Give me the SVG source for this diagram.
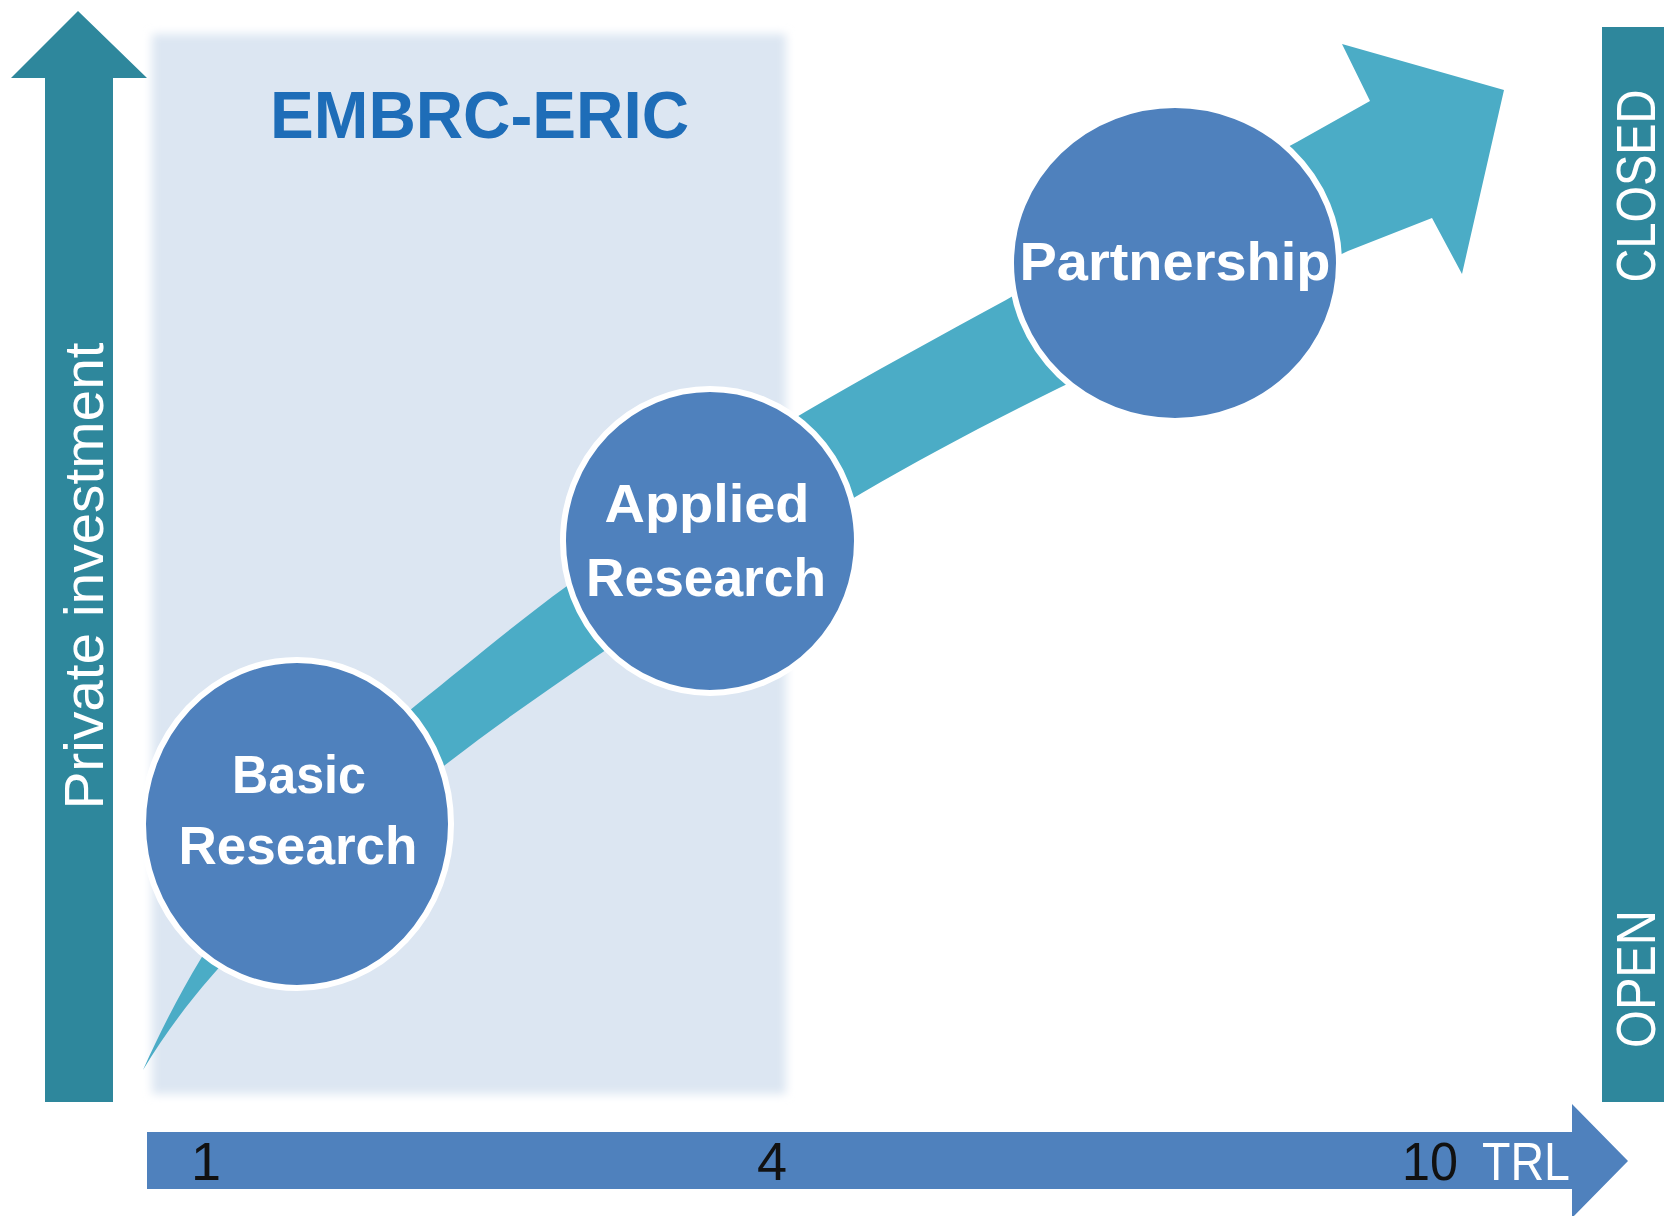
<svg xmlns="http://www.w3.org/2000/svg" width="1678" height="1216" viewBox="0 0 1678 1216">
  <defs>
    <filter id="soft" x="-5%" y="-5%" width="110%" height="110%">
      <feGaussianBlur stdDeviation="5"/>
    </filter>
  </defs>
  <style>
    .bar { fill: #2e879c; }
    .axis { fill: #4f81bd; }
    .flow { fill: #4bacc6; }
    .node { fill: #4f81bd; stroke: #ffffff; stroke-width: 6; }
    .lbl { font-family: "Liberation Sans", Arial, sans-serif; font-weight: bold; font-size: 53px; fill: #ffffff; text-anchor: middle; }
    .side { font-family: "Liberation Sans", Arial, sans-serif; font-size: 56px; fill: #ffffff; text-anchor: middle; }
    .tick { font-family: "Liberation Sans", Arial, sans-serif; font-size: 54px; fill: #111111; text-anchor: middle; }
  </style>
  <rect width="1678" height="1216" fill="#ffffff"/>

  <!-- EMBRC-ERIC shaded region -->
  <g id="embrc-eric">
    <rect x="152" y="34" width="634" height="1060" fill="#dce6f2" filter="url(#soft)"/>
    <text x="479.5" y="138" font-family="Liberation Sans, Arial, sans-serif" font-weight="bold" font-size="66" fill="#1e6db8" text-anchor="middle" textLength="419" lengthAdjust="spacingAndGlyphs">EMBRC-ERIC</text>
  </g>

  <!-- Vertical axis: Private investment -->
  <g id="axis-private-investment">
    <polygon class="bar" points="45,78 11,78 78,11 147,78 113,78 113,1102 45,1102"/>
    <text class="side" transform="translate(103,576) rotate(-90)" textLength="467" lengthAdjust="spacingAndGlyphs">Private investment</text>
  </g>

  <!-- Right bar: OPEN / CLOSED -->
  <g id="axis-open-closed">
    <rect class="bar" x="1602" y="27" width="62" height="1075"/>
    <text class="side" transform="translate(1655,186) rotate(-90)" textLength="193" lengthAdjust="spacingAndGlyphs">CLOSED</text>
    <text class="side" transform="translate(1655,979) rotate(-90)" textLength="138" lengthAdjust="spacingAndGlyphs">OPEN</text>
  </g>

  <!-- Horizontal axis: TRL -->
  <g id="axis-trl">
    <polygon class="axis" points="147,1132 1572,1132 1572,1104 1628,1161 1572,1218 1572,1189 147,1189"/>
    <text class="tick" x="206" y="1180">1</text>
    <text class="tick" x="772" y="1180">4</text>
    <text class="tick" x="1430" y="1180" textLength="56" lengthAdjust="spacingAndGlyphs">10</text>
    <text class="tick" x="1526" y="1180" fill="#ffffff" style="fill:#ffffff" textLength="88" lengthAdjust="spacingAndGlyphs">TRL</text>
  </g>

  <!-- Connector: curved growth arrow -->
  <g id="connectors">
    <path class="flow" d="M143,1070
      C170,1010 200,955 240,900
      C300,820 360,750 415,706
      C470,662 520,620 567,586
      C640,532 720,462 805,412
      C870,374 940,336 1006,300
      C1100,248 1200,194 1297,142
      L1370,101 L1342,44 L1504,90 L1462,274 L1432,218 L1348,251
      C1250,298 1150,344 1059,388
      C990,422 925,456 862,493
      C770,548 680,600 597,656
      C545,692 495,726 449,762
      C370,822 300,885 250,935
      C205,980 170,1025 143,1070 Z"/>
  </g>

  <!-- Nodes -->
  <g id="node-basic-research">
    <ellipse class="node" cx="297" cy="824" rx="154" ry="164"/>
    <text class="lbl" x="299" y="793" textLength="134" lengthAdjust="spacingAndGlyphs">Basic</text>
    <text class="lbl" x="298" y="864" textLength="239" lengthAdjust="spacingAndGlyphs">Research</text>
  </g>

  <g id="node-applied-research">
    <ellipse class="node" cx="710" cy="541" rx="147" ry="152"/>
    <text class="lbl" x="707" y="522" textLength="205" lengthAdjust="spacingAndGlyphs">Applied</text>
    <text class="lbl" x="706" y="596" textLength="240" lengthAdjust="spacingAndGlyphs">Research</text>
  </g>

  <g id="node-partnership">
    <ellipse class="node" cx="1175" cy="263" rx="164" ry="158"/>
    <text class="lbl" x="1175" y="280" font-size="54" style="font-size:54px" textLength="311" lengthAdjust="spacingAndGlyphs">Partnership</text>
  </g>
</svg>
